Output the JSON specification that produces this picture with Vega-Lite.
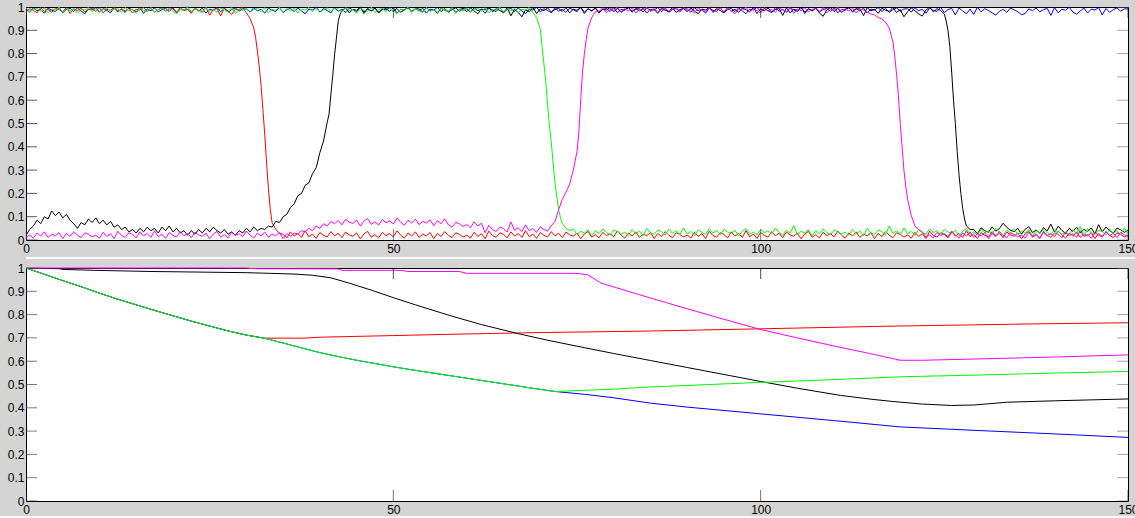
{
  "$schema": "https://vega.github.io/schema/vega-lite/v6.json",
  "background": "#d4d4d4",
  "padding": {"left": 6, "top": 0, "right": 0, "bottom": 0},
  "spacing": 2,
  "config": {
    "view": {"stroke": "#000", "strokeWidth": 1, "fill": "#fff"},
    "axis": {"labelFont": "Liberation Sans", "labelFontSize": 12, "labelColor": "#000", "grid": false, "domain": false, "ticks": false}
  },
  "datasets": {
    "yt": [{"v":0},{"v":0.1},{"v":0.2},{"v":0.3},{"v":0.4},{"v":0.5},{"v":0.6},{"v":0.7},{"v":0.8},{"v":0.9},{"v":1}],
    "xt": [{"v":0},{"v":50},{"v":100},{"v":150}],
    "top": [
      {"s":"b","x":0,"y":0.992},{"s":"b","x":0.5,"y":0.978},{"s":"b","x":1,"y":0.997},{"s":"b","x":1.5,"y":0.984},{"s":"b","x":2,"y":0.99},{"s":"b","x":2.5,"y":0.973},{"s":"b","x":3,"y":0.995},{"s":"b","x":3.5,"y":0.986},{"s":"b","x":4,"y":0.981},{"s":"b","x":4.5,"y":0.998},
      {"s":"b","x":5,"y":0.976},{"s":"b","x":5.5,"y":0.989},{"s":"b","x":6,"y":0.994},{"s":"b","x":6.5,"y":0.98},{"s":"b","x":7,"y":0.996},{"s":"b","x":7.5,"y":0.983},{"s":"b","x":8,"y":0.971},{"s":"b","x":8.5,"y":0.991},{"s":"b","x":9,"y":0.987},{"s":"b","x":9.5,"y":0.999},
      {"s":"b","x":10,"y":0.979},{"s":"b","x":10.5,"y":0.993},{"s":"b","x":11,"y":0.985},{"s":"b","x":11.5,"y":0.975},{"s":"b","x":12,"y":0.997},{"s":"b","x":12.5,"y":0.982},{"s":"b","x":13,"y":0.99},{"s":"b","x":13.5,"y":0.977},{"s":"b","x":14,"y":0.995},{"s":"b","x":14.5,"y":0.988},
      {"s":"b","x":15,"y":0.98},{"s":"b","x":15.5,"y":0.998},{"s":"b","x":16,"y":0.972},{"s":"b","x":16.5,"y":0.992},{"s":"b","x":17,"y":0.984},{"s":"b","x":17.5,"y":0.996},{"s":"b","x":18,"y":0.979},{"s":"b","x":18.5,"y":0.989},{"s":"b","x":19,"y":0.994},{"s":"b","x":19.5,"y":0.981},
      {"s":"b","x":20,"y":0.997},{"s":"b","x":20.5,"y":0.975},{"s":"b","x":21,"y":0.99},{"s":"b","x":21.5,"y":0.986},{"s":"b","x":22,"y":0.999},{"s":"b","x":22.5,"y":0.978},{"s":"b","x":23,"y":0.993},{"s":"b","x":23.5,"y":0.983},{"s":"b","x":24,"y":0.995},{"s":"b","x":24.5,"y":0.974},
      {"s":"b","x":25,"y":0.991},{"s":"b","x":25.5,"y":0.987},{"s":"b","x":26,"y":0.998},{"s":"b","x":26.5,"y":0.98},{"s":"b","x":27,"y":0.994},{"s":"b","x":27.5,"y":0.977},{"s":"b","x":28,"y":0.989},{"s":"b","x":28.5,"y":0.996},{"s":"b","x":29,"y":0.982},{"s":"b","x":29.5,"y":0.992},
      {"s":"b","x":30,"y":0.992},{"s":"b","x":30.5,"y":0.978},{"s":"b","x":31,"y":0.997},{"s":"b","x":31.5,"y":0.984},{"s":"b","x":32,"y":0.99},{"s":"b","x":32.5,"y":0.973},{"s":"b","x":33,"y":0.995},{"s":"b","x":33.5,"y":0.986},{"s":"b","x":34,"y":0.981},{"s":"b","x":34.5,"y":0.998},
      {"s":"b","x":35,"y":0.976},{"s":"b","x":35.5,"y":0.989},{"s":"b","x":36,"y":0.994},{"s":"b","x":36.5,"y":0.98},{"s":"b","x":37,"y":0.996},{"s":"b","x":37.5,"y":0.983},{"s":"b","x":38,"y":0.971},{"s":"b","x":38.5,"y":0.991},{"s":"b","x":39,"y":0.987},{"s":"b","x":39.5,"y":0.999},
      {"s":"b","x":40,"y":0.979},{"s":"b","x":40.5,"y":0.993},{"s":"b","x":41,"y":0.985},{"s":"b","x":41.5,"y":0.975},{"s":"b","x":42,"y":0.997},{"s":"b","x":42.5,"y":0.982},{"s":"b","x":43,"y":0.99},{"s":"b","x":43.5,"y":0.977},{"s":"b","x":44,"y":0.995},{"s":"b","x":44.5,"y":0.988},
      {"s":"b","x":45,"y":0.98},{"s":"b","x":45.5,"y":0.998},{"s":"b","x":46,"y":0.972},{"s":"b","x":46.5,"y":0.992},{"s":"b","x":47,"y":0.984},{"s":"b","x":47.5,"y":0.996},{"s":"b","x":48,"y":0.979},{"s":"b","x":48.5,"y":0.989},{"s":"b","x":49,"y":0.994},{"s":"b","x":49.5,"y":0.981},
      {"s":"b","x":50,"y":0.997},{"s":"b","x":50.5,"y":0.975},{"s":"b","x":51,"y":0.99},{"s":"b","x":51.5,"y":0.986},{"s":"b","x":52,"y":0.999},{"s":"b","x":52.5,"y":0.978},{"s":"b","x":53,"y":0.993},{"s":"b","x":53.5,"y":0.983},{"s":"b","x":54,"y":0.995},{"s":"b","x":54.5,"y":0.974},
      {"s":"b","x":55,"y":0.991},{"s":"b","x":55.5,"y":0.987},{"s":"b","x":56,"y":0.998},{"s":"b","x":56.5,"y":0.98},{"s":"b","x":57,"y":0.994},{"s":"b","x":57.5,"y":0.977},{"s":"b","x":58,"y":0.989},{"s":"b","x":58.5,"y":0.996},{"s":"b","x":59,"y":0.982},{"s":"b","x":59.5,"y":0.992},
      {"s":"b","x":60,"y":0.992},{"s":"b","x":60.5,"y":0.978},{"s":"b","x":61,"y":0.997},{"s":"b","x":61.5,"y":0.984},{"s":"b","x":62,"y":0.99},{"s":"b","x":62.5,"y":0.973},{"s":"b","x":63,"y":0.995},{"s":"b","x":63.5,"y":0.986},{"s":"b","x":64,"y":0.981},{"s":"b","x":64.5,"y":0.998},
      {"s":"b","x":65,"y":0.976},{"s":"b","x":65.5,"y":0.989},{"s":"b","x":66,"y":0.994},{"s":"b","x":66.5,"y":0.98},{"s":"b","x":67,"y":0.996},{"s":"b","x":67.5,"y":0.983},{"s":"b","x":68,"y":0.971},{"s":"b","x":68.5,"y":0.991},{"s":"b","x":69,"y":0.987},{"s":"b","x":69.5,"y":0.999},
      {"s":"b","x":70,"y":0.979},{"s":"b","x":70.5,"y":0.993},{"s":"b","x":71,"y":0.985},{"s":"b","x":71.5,"y":0.975},{"s":"b","x":72,"y":0.997},{"s":"b","x":72.5,"y":0.982},{"s":"b","x":73,"y":0.99},{"s":"b","x":73.5,"y":0.977},{"s":"b","x":74,"y":0.995},{"s":"b","x":74.5,"y":0.988},
      {"s":"b","x":75,"y":0.98},{"s":"b","x":75.5,"y":0.998},{"s":"b","x":76,"y":0.972},{"s":"b","x":76.5,"y":0.992},{"s":"b","x":77,"y":0.984},{"s":"b","x":77.5,"y":0.996},{"s":"b","x":78,"y":0.979},{"s":"b","x":78.5,"y":0.989},{"s":"b","x":79,"y":0.994},{"s":"b","x":79.5,"y":0.981},
      {"s":"b","x":80,"y":0.997},{"s":"b","x":80.5,"y":0.975},{"s":"b","x":81,"y":0.99},{"s":"b","x":81.5,"y":0.986},{"s":"b","x":82,"y":0.999},{"s":"b","x":82.5,"y":0.978},{"s":"b","x":83,"y":0.993},{"s":"b","x":83.5,"y":0.983},{"s":"b","x":84,"y":0.995},{"s":"b","x":84.5,"y":0.974},
      {"s":"b","x":85,"y":0.991},{"s":"b","x":85.5,"y":0.987},{"s":"b","x":86,"y":0.998},{"s":"b","x":86.5,"y":0.98},{"s":"b","x":87,"y":0.994},{"s":"b","x":87.5,"y":0.977},{"s":"b","x":88,"y":0.989},{"s":"b","x":88.5,"y":0.996},{"s":"b","x":89,"y":0.982},{"s":"b","x":89.5,"y":0.992},
      {"s":"b","x":90,"y":0.992},{"s":"b","x":90.5,"y":0.978},{"s":"b","x":91,"y":0.997},{"s":"b","x":91.5,"y":0.984},{"s":"b","x":92,"y":0.99},{"s":"b","x":92.5,"y":0.973},{"s":"b","x":93,"y":0.995},{"s":"b","x":93.5,"y":0.986},{"s":"b","x":94,"y":0.981},{"s":"b","x":94.5,"y":0.998},
      {"s":"b","x":95,"y":0.976},{"s":"b","x":95.5,"y":0.989},{"s":"b","x":96,"y":0.994},{"s":"b","x":96.5,"y":0.98},{"s":"b","x":97,"y":0.996},{"s":"b","x":97.5,"y":0.983},{"s":"b","x":98,"y":0.971},{"s":"b","x":98.5,"y":0.991},{"s":"b","x":99,"y":0.987},{"s":"b","x":99.5,"y":0.999},
      {"s":"b","x":100,"y":0.979},{"s":"b","x":100.5,"y":0.993},{"s":"b","x":101,"y":0.985},{"s":"b","x":101.5,"y":0.975},{"s":"b","x":102,"y":0.997},{"s":"b","x":102.5,"y":0.982},{"s":"b","x":103,"y":0.99},{"s":"b","x":103.5,"y":0.977},{"s":"b","x":104,"y":0.995},{"s":"b","x":104.5,"y":0.988},
      {"s":"b","x":105,"y":0.98},{"s":"b","x":105.5,"y":0.998},{"s":"b","x":106,"y":0.972},{"s":"b","x":106.5,"y":0.992},{"s":"b","x":107,"y":0.984},{"s":"b","x":107.5,"y":0.996},{"s":"b","x":108,"y":0.979},{"s":"b","x":108.5,"y":0.989},{"s":"b","x":109,"y":0.994},{"s":"b","x":109.5,"y":0.981},
      {"s":"b","x":110,"y":0.997},{"s":"b","x":110.5,"y":0.975},{"s":"b","x":111,"y":0.99},{"s":"b","x":111.5,"y":0.986},{"s":"b","x":112,"y":0.999},{"s":"b","x":112.5,"y":0.978},{"s":"b","x":113,"y":0.993},{"s":"b","x":113.5,"y":0.983},{"s":"b","x":114,"y":0.995},{"s":"b","x":114.5,"y":0.974},
      {"s":"b","x":115,"y":0.991},{"s":"b","x":115.5,"y":0.987},{"s":"b","x":116,"y":0.998},{"s":"b","x":116.5,"y":0.98},{"s":"b","x":117,"y":0.994},{"s":"b","x":117.5,"y":0.977},{"s":"b","x":118,"y":0.989},{"s":"b","x":118.5,"y":0.996},{"s":"b","x":119,"y":0.982},{"s":"b","x":119.5,"y":0.992},
      {"s":"b","x":120,"y":0.992},{"s":"b","x":120.5,"y":0.978},{"s":"b","x":121,"y":0.997},{"s":"b","x":121.5,"y":0.984},{"s":"b","x":122,"y":0.99},{"s":"b","x":122.5,"y":0.973},{"s":"b","x":123,"y":0.995},{"s":"b","x":123.5,"y":0.986},{"s":"b","x":124,"y":0.981},{"s":"b","x":124.5,"y":0.998},
      {"s":"b","x":125,"y":0.976},{"s":"b","x":125.5,"y":0.989},{"s":"b","x":126,"y":0.994},{"s":"b","x":126.5,"y":0.966},{"s":"b","x":127,"y":0.996},{"s":"b","x":127.5,"y":0.983},{"s":"b","x":128,"y":0.971},{"s":"b","x":128.5,"y":0.991},{"s":"b","x":129,"y":0.968},{"s":"b","x":129.5,"y":0.999},
      {"s":"b","x":130,"y":0.979},{"s":"b","x":130.5,"y":0.993},{"s":"b","x":131,"y":0.985},{"s":"b","x":131.5,"y":0.975},{"s":"b","x":132,"y":0.965},{"s":"b","x":132.5,"y":0.982},{"s":"b","x":133,"y":0.99},{"s":"b","x":133.5,"y":0.977},{"s":"b","x":134,"y":0.995},{"s":"b","x":134.5,"y":0.988},
      {"s":"b","x":135,"y":0.98},{"s":"b","x":135.5,"y":0.967},{"s":"b","x":136,"y":0.972},{"s":"b","x":136.5,"y":0.992},{"s":"b","x":137,"y":0.984},{"s":"b","x":137.5,"y":0.996},{"s":"b","x":138,"y":0.979},{"s":"b","x":138.5,"y":0.989},{"s":"b","x":139,"y":0.994},{"s":"b","x":139.5,"y":0.964},
      {"s":"b","x":140,"y":0.997},{"s":"b","x":140.5,"y":0.975},{"s":"b","x":141,"y":0.99},{"s":"b","x":141.5,"y":0.986},{"s":"b","x":142,"y":0.999},{"s":"b","x":142.5,"y":0.978},{"s":"b","x":143,"y":0.969},{"s":"b","x":143.5,"y":0.983},{"s":"b","x":144,"y":0.995},{"s":"b","x":144.5,"y":0.974},
      {"s":"b","x":145,"y":0.991},{"s":"b","x":145.5,"y":0.987},{"s":"b","x":146,"y":0.998},{"s":"b","x":146.5,"y":0.966},{"s":"b","x":147,"y":0.994},{"s":"b","x":147.5,"y":0.977},{"s":"b","x":148,"y":0.989},{"s":"b","x":148.5,"y":0.996},{"s":"b","x":149,"y":0.982},{"s":"b","x":149.5,"y":0.992},
      {"s":"b","x":150,"y":0.992},

      {"s":"r","x":0,"y":0.979},{"s":"r","x":0.5,"y":0.993},{"s":"r","x":1,"y":0.985},{"s":"r","x":1.5,"y":0.975},{"s":"r","x":2,"y":0.997},{"s":"r","x":2.5,"y":0.982},{"s":"r","x":3,"y":0.99},{"s":"r","x":3.5,"y":0.977},{"s":"r","x":4,"y":0.995},{"s":"r","x":4.5,"y":0.988},
      {"s":"r","x":5,"y":0.98},{"s":"r","x":5.5,"y":0.998},{"s":"r","x":6,"y":0.972},{"s":"r","x":6.5,"y":0.992},{"s":"r","x":7,"y":0.984},{"s":"r","x":7.5,"y":0.996},{"s":"r","x":8,"y":0.979},{"s":"r","x":8.5,"y":0.989},{"s":"r","x":9,"y":0.994},{"s":"r","x":9.5,"y":0.981},
      {"s":"r","x":10,"y":0.997},{"s":"r","x":10.5,"y":0.975},{"s":"r","x":11,"y":0.99},{"s":"r","x":11.5,"y":0.986},{"s":"r","x":12,"y":0.999},{"s":"r","x":12.5,"y":0.978},{"s":"r","x":13,"y":0.993},{"s":"r","x":13.5,"y":0.983},{"s":"r","x":14,"y":0.995},{"s":"r","x":14.5,"y":0.974},
      {"s":"r","x":15,"y":0.991},{"s":"r","x":15.5,"y":0.987},{"s":"r","x":16,"y":0.998},{"s":"r","x":16.5,"y":0.98},{"s":"r","x":17,"y":0.994},{"s":"r","x":17.5,"y":0.977},{"s":"r","x":18,"y":0.989},{"s":"r","x":18.5,"y":0.996},{"s":"r","x":19,"y":0.982},{"s":"r","x":19.5,"y":0.992},
      {"s":"r","x":20,"y":0.992},{"s":"r","x":20.5,"y":0.978},{"s":"r","x":21,"y":0.997},{"s":"r","x":21.5,"y":0.984},{"s":"r","x":22,"y":0.99},{"s":"r","x":22.5,"y":0.973},{"s":"r","x":23,"y":0.995},{"s":"r","x":23.5,"y":0.986},{"s":"r","x":24,"y":0.981},{"s":"r","x":24.5,"y":0.998},
      {"s":"r","x":25,"y":0.965},{"s":"r","x":25.5,"y":0.989},{"s":"r","x":26,"y":0.994},{"s":"r","x":26.5,"y":0.962},{"s":"r","x":27,"y":0.996},{"s":"r","x":27.5,"y":0.983},{"s":"r","x":28,"y":0.968},{"s":"r","x":28.5,"y":0.991},{"s":"r","x":29,"y":0.987},{"s":"r","x":29.5,"y":0.999},
      {"s":"r","x":30,"y":0.975},{"s":"r","x":30.5,"y":0.95},{"s":"r","x":31,"y":0.91},{"s":"r","x":31.25,"y":0.87},{"s":"r","x":31.5,"y":0.81},{"s":"r","x":31.75,"y":0.745},{"s":"r","x":32,"y":0.66},{"s":"r","x":32.25,"y":0.56},{"s":"r","x":32.5,"y":0.45},{"s":"r","x":32.75,"y":0.33},
      {"s":"r","x":33,"y":0.22},{"s":"r","x":33.25,"y":0.13},{"s":"r","x":33.5,"y":0.075},{"s":"r","x":34,"y":0.045},{"s":"r","x":34.5,"y":0.03},
      {"s":"r","x":35,"y":0.024},{"s":"r","x":35.5,"y":0.009},{"s":"r","x":36,"y":0.035},{"s":"r","x":36.5,"y":0.017},{"s":"r","x":37,"y":0.028},{"s":"r","x":37.5,"y":0.011},{"s":"r","x":38,"y":0.04},{"s":"r","x":38.5,"y":0.014},{"s":"r","x":39,"y":0.025},{"s":"r","x":39.5,"y":0.007},
      {"s":"r","x":40,"y":0.032},{"s":"r","x":40.5,"y":0.02},{"s":"r","x":41,"y":0.013},{"s":"r","x":41.5,"y":0.036},{"s":"r","x":42,"y":0.018},{"s":"r","x":42.5,"y":0.029},{"s":"r","x":43,"y":0.01},{"s":"r","x":43.5,"y":0.034},{"s":"r","x":44,"y":0.022},{"s":"r","x":44.5,"y":0.016},
      {"s":"r","x":45,"y":0.03},{"s":"r","x":45.5,"y":0.005},{"s":"r","x":46,"y":0.026},{"s":"r","x":46.5,"y":0.037},{"s":"r","x":47,"y":0.012},{"s":"r","x":47.5,"y":0.023},{"s":"r","x":48,"y":0.009},{"s":"r","x":48.5,"y":0.033},{"s":"r","x":49,"y":0.019},{"s":"r","x":49.5,"y":0.027},
      {"s":"r","x":50,"y":0.014},{"s":"r","x":50.5,"y":0.039},{"s":"r","x":51,"y":0.021},{"s":"r","x":51.5,"y":0.008},{"s":"r","x":52,"y":0.03},{"s":"r","x":52.5,"y":0.017},{"s":"r","x":53,"y":0.035},{"s":"r","x":53.5,"y":0.011},{"s":"r","x":54,"y":0.025},{"s":"r","x":54.5,"y":0.018},
      {"s":"r","x":55,"y":0.032},{"s":"r","x":55.5,"y":0.006},{"s":"r","x":56,"y":0.028},{"s":"r","x":56.5,"y":0.015},{"s":"r","x":57,"y":0.036},{"s":"r","x":57.5,"y":0.02},{"s":"r","x":58,"y":0.01},{"s":"r","x":58.5,"y":0.031},{"s":"r","x":59,"y":0.024},{"s":"r","x":59.5,"y":0.013},
      {"s":"r","x":60,"y":0.021},{"s":"r","x":60.5,"y":0.008},{"s":"r","x":61,"y":0.033},{"s":"r","x":61.5,"y":0.015},{"s":"r","x":62,"y":0.027},{"s":"r","x":62.5,"y":0.006},{"s":"r","x":63,"y":0.038},{"s":"r","x":63.5,"y":0.019},{"s":"r","x":64,"y":0.012},{"s":"r","x":64.5,"y":0.031},
      {"s":"r","x":65,"y":0.024},{"s":"r","x":65.5,"y":0.009},{"s":"r","x":66,"y":0.035},{"s":"r","x":66.5,"y":0.017},{"s":"r","x":67,"y":0.028},{"s":"r","x":67.5,"y":0.011},{"s":"r","x":68,"y":0.04},{"s":"r","x":68.5,"y":0.014},{"s":"r","x":69,"y":0.025},{"s":"r","x":69.5,"y":0.007},
      {"s":"r","x":70,"y":0.032},{"s":"r","x":70.5,"y":0.02},{"s":"r","x":71,"y":0.013},{"s":"r","x":71.5,"y":0.036},{"s":"r","x":72,"y":0.018},{"s":"r","x":72.5,"y":0.029},{"s":"r","x":73,"y":0.01},{"s":"r","x":73.5,"y":0.034},{"s":"r","x":74,"y":0.022},{"s":"r","x":74.5,"y":0.016},
      {"s":"r","x":75,"y":0.03},{"s":"r","x":75.5,"y":0.005},{"s":"r","x":76,"y":0.026},{"s":"r","x":76.5,"y":0.037},{"s":"r","x":77,"y":0.012},{"s":"r","x":77.5,"y":0.023},{"s":"r","x":78,"y":0.009},{"s":"r","x":78.5,"y":0.033},{"s":"r","x":79,"y":0.019},{"s":"r","x":79.5,"y":0.027},
      {"s":"r","x":80,"y":0.014},{"s":"r","x":80.5,"y":0.039},{"s":"r","x":81,"y":0.021},{"s":"r","x":81.5,"y":0.008},{"s":"r","x":82,"y":0.03},{"s":"r","x":82.5,"y":0.017},{"s":"r","x":83,"y":0.035},{"s":"r","x":83.5,"y":0.011},{"s":"r","x":84,"y":0.025},{"s":"r","x":84.5,"y":0.018},
      {"s":"r","x":85,"y":0.032},{"s":"r","x":85.5,"y":0.006},{"s":"r","x":86,"y":0.028},{"s":"r","x":86.5,"y":0.015},{"s":"r","x":87,"y":0.036},{"s":"r","x":87.5,"y":0.02},{"s":"r","x":88,"y":0.01},{"s":"r","x":88.5,"y":0.031},{"s":"r","x":89,"y":0.024},{"s":"r","x":89.5,"y":0.013},
      {"s":"r","x":90,"y":0.021},{"s":"r","x":90.5,"y":0.008},{"s":"r","x":91,"y":0.033},{"s":"r","x":91.5,"y":0.015},{"s":"r","x":92,"y":0.027},{"s":"r","x":92.5,"y":0.006},{"s":"r","x":93,"y":0.038},{"s":"r","x":93.5,"y":0.019},{"s":"r","x":94,"y":0.012},{"s":"r","x":94.5,"y":0.031},
      {"s":"r","x":95,"y":0.024},{"s":"r","x":95.5,"y":0.009},{"s":"r","x":96,"y":0.035},{"s":"r","x":96.5,"y":0.017},{"s":"r","x":97,"y":0.028},{"s":"r","x":97.5,"y":0.011},{"s":"r","x":98,"y":0.04},{"s":"r","x":98.5,"y":0.014},{"s":"r","x":99,"y":0.025},{"s":"r","x":99.5,"y":0.007},
      {"s":"r","x":100,"y":0.032},{"s":"r","x":100.5,"y":0.02},{"s":"r","x":101,"y":0.013},{"s":"r","x":101.5,"y":0.036},{"s":"r","x":102,"y":0.018},{"s":"r","x":102.5,"y":0.029},{"s":"r","x":103,"y":0.01},{"s":"r","x":103.5,"y":0.034},{"s":"r","x":104,"y":0.022},{"s":"r","x":104.5,"y":0.016},
      {"s":"r","x":105,"y":0.03},{"s":"r","x":105.5,"y":0.005},{"s":"r","x":106,"y":0.026},{"s":"r","x":106.5,"y":0.037},{"s":"r","x":107,"y":0.012},{"s":"r","x":107.5,"y":0.023},{"s":"r","x":108,"y":0.009},{"s":"r","x":108.5,"y":0.033},{"s":"r","x":109,"y":0.019},{"s":"r","x":109.5,"y":0.027},
      {"s":"r","x":110,"y":0.014},{"s":"r","x":110.5,"y":0.039},{"s":"r","x":111,"y":0.021},{"s":"r","x":111.5,"y":0.008},{"s":"r","x":112,"y":0.03},{"s":"r","x":112.5,"y":0.017},{"s":"r","x":113,"y":0.035},{"s":"r","x":113.5,"y":0.011},{"s":"r","x":114,"y":0.025},{"s":"r","x":114.5,"y":0.018},
      {"s":"r","x":115,"y":0.032},{"s":"r","x":115.5,"y":0.006},{"s":"r","x":116,"y":0.028},{"s":"r","x":116.5,"y":0.015},{"s":"r","x":117,"y":0.036},{"s":"r","x":117.5,"y":0.02},{"s":"r","x":118,"y":0.01},{"s":"r","x":118.5,"y":0.031},{"s":"r","x":119,"y":0.024},{"s":"r","x":119.5,"y":0.013},
      {"s":"r","x":120,"y":0.021},{"s":"r","x":120.5,"y":0.008},{"s":"r","x":121,"y":0.033},{"s":"r","x":121.5,"y":0.015},{"s":"r","x":122,"y":0.027},{"s":"r","x":122.5,"y":0.006},{"s":"r","x":123,"y":0.038},{"s":"r","x":123.5,"y":0.019},{"s":"r","x":124,"y":0.012},{"s":"r","x":124.5,"y":0.031},
      {"s":"r","x":125,"y":0.024},{"s":"r","x":125.5,"y":0.009},{"s":"r","x":126,"y":0.035},{"s":"r","x":126.5,"y":0.017},{"s":"r","x":127,"y":0.028},{"s":"r","x":127.5,"y":0.011},{"s":"r","x":128,"y":0.04},{"s":"r","x":128.5,"y":0.014},{"s":"r","x":129,"y":0.025},{"s":"r","x":129.5,"y":0.007},
      {"s":"r","x":130,"y":0.032},{"s":"r","x":130.5,"y":0.02},{"s":"r","x":131,"y":0.013},{"s":"r","x":131.5,"y":0.036},{"s":"r","x":132,"y":0.018},{"s":"r","x":132.5,"y":0.029},{"s":"r","x":133,"y":0.01},{"s":"r","x":133.5,"y":0.034},{"s":"r","x":134,"y":0.022},{"s":"r","x":134.5,"y":0.016},
      {"s":"r","x":135,"y":0.03},{"s":"r","x":135.5,"y":0.005},{"s":"r","x":136,"y":0.026},{"s":"r","x":136.5,"y":0.037},{"s":"r","x":137,"y":0.012},{"s":"r","x":137.5,"y":0.023},{"s":"r","x":138,"y":0.009},{"s":"r","x":138.5,"y":0.033},{"s":"r","x":139,"y":0.019},{"s":"r","x":139.5,"y":0.027},
      {"s":"r","x":140,"y":0.014},{"s":"r","x":140.5,"y":0.039},{"s":"r","x":141,"y":0.021},{"s":"r","x":141.5,"y":0.008},{"s":"r","x":142,"y":0.03},{"s":"r","x":142.5,"y":0.017},{"s":"r","x":143,"y":0.035},{"s":"r","x":143.5,"y":0.011},{"s":"r","x":144,"y":0.025},{"s":"r","x":144.5,"y":0.018},
      {"s":"r","x":145,"y":0.032},{"s":"r","x":145.5,"y":0.006},{"s":"r","x":146,"y":0.028},{"s":"r","x":146.5,"y":0.015},{"s":"r","x":147,"y":0.036},{"s":"r","x":147.5,"y":0.02},{"s":"r","x":148,"y":0.01},{"s":"r","x":148.5,"y":0.031},{"s":"r","x":149,"y":0.024},{"s":"r","x":149.5,"y":0.013},
      {"s":"r","x":150,"y":0.021},

      {"s":"k","x":0,"y":0.02},{"s":"k","x":0.5,"y":0.045},{"s":"k","x":1,"y":0.06},{"s":"k","x":1.5,"y":0.085},{"s":"k","x":2,"y":0.07},{"s":"k","x":2.5,"y":0.1},{"s":"k","x":3,"y":0.09},{"s":"k","x":3.5,"y":0.125},{"s":"k","x":4,"y":0.105},{"s":"k","x":4.5,"y":0.12},
      {"s":"k","x":5,"y":0.095},{"s":"k","x":5.5,"y":0.11},{"s":"k","x":6,"y":0.085},{"s":"k","x":6.5,"y":0.07},{"s":"k","x":7,"y":0.05},{"s":"k","x":7.5,"y":0.075},{"s":"k","x":8,"y":0.065},{"s":"k","x":8.5,"y":0.09},{"s":"k","x":9,"y":0.075},{"s":"k","x":9.5,"y":0.095},
      {"s":"k","x":10,"y":0.07},{"s":"k","x":10.5,"y":0.085},{"s":"k","x":11,"y":0.065},{"s":"k","x":11.5,"y":0.08},{"s":"k","x":12,"y":0.055},{"s":"k","x":12.5,"y":0.065},{"s":"k","x":13,"y":0.045},{"s":"k","x":13.5,"y":0.055},{"s":"k","x":14,"y":0.035},{"s":"k","x":14.5,"y":0.045},
      {"s":"k","x":15,"y":0.03},{"s":"k","x":15.5,"y":0.05},{"s":"k","x":16,"y":0.035},{"s":"k","x":16.5,"y":0.055},{"s":"k","x":17,"y":0.04},{"s":"k","x":17.5,"y":0.05},{"s":"k","x":18,"y":0.03},{"s":"k","x":18.5,"y":0.055},{"s":"k","x":19,"y":0.04},{"s":"k","x":19.5,"y":0.06},
      {"s":"k","x":20,"y":0.035},{"s":"k","x":20.5,"y":0.05},{"s":"k","x":21,"y":0.03},{"s":"k","x":21.5,"y":0.04},{"s":"k","x":22,"y":0.02},{"s":"k","x":22.5,"y":0.04},{"s":"k","x":23,"y":0.025},{"s":"k","x":23.5,"y":0.045},{"s":"k","x":24,"y":0.03},{"s":"k","x":24.5,"y":0.05},
      {"s":"k","x":25,"y":0.035},{"s":"k","x":25.5,"y":0.055},{"s":"k","x":26,"y":0.04},{"s":"k","x":26.5,"y":0.03},{"s":"k","x":27,"y":0.045},{"s":"k","x":27.5,"y":0.025},{"s":"k","x":28,"y":0.035},{"s":"k","x":28.5,"y":0.02},{"s":"k","x":29,"y":0.04},{"s":"k","x":29.5,"y":0.03},
      {"s":"k","x":30,"y":0.05},{"s":"k","x":30.5,"y":0.035},{"s":"k","x":31,"y":0.055},{"s":"k","x":31.5,"y":0.04},{"s":"k","x":32,"y":0.05},{"s":"k","x":32.5,"y":0.045},{"s":"k","x":33,"y":0.06},
      {"s":"k","x":33.5,"y":0.055},{"s":"k","x":34,"y":0.08},{"s":"k","x":34.5,"y":0.075},{"s":"k","x":35,"y":0.1},{"s":"k","x":35.5,"y":0.11},{"s":"k","x":36,"y":0.14},{"s":"k","x":36.5,"y":0.155},{"s":"k","x":37,"y":0.19},{"s":"k","x":37.5,"y":0.2},
      {"s":"k","x":38,"y":0.235},{"s":"k","x":38.5,"y":0.245},{"s":"k","x":39,"y":0.285},{"s":"k","x":39.5,"y":0.31},{"s":"k","x":40,"y":0.375},{"s":"k","x":40.5,"y":0.425},{"s":"k","x":41,"y":0.505},{"s":"k","x":41.25,"y":0.54},{"s":"k","x":41.5,"y":0.625},{"s":"k","x":41.75,"y":0.705},
      {"s":"k","x":42,"y":0.795},{"s":"k","x":42.25,"y":0.865},{"s":"k","x":42.5,"y":0.94},{"s":"k","x":42.75,"y":0.968},{"s":"k","x":43,"y":0.985},
      {"s":"k","x":43.5,"y":0.997},{"s":"k","x":44,"y":0.975},{"s":"k","x":44.5,"y":0.99},{"s":"k","x":45,"y":0.986},{"s":"k","x":45.5,"y":0.999},{"s":"k","x":46,"y":0.978},{"s":"k","x":46.5,"y":0.993},{"s":"k","x":47,"y":0.983},{"s":"k","x":47.5,"y":0.995},{"s":"k","x":48,"y":0.974},
      {"s":"k","x":48.5,"y":0.991},{"s":"k","x":49,"y":0.987},{"s":"k","x":49.5,"y":0.998},{"s":"k","x":50,"y":0.98},{"s":"k","x":50.5,"y":0.994},{"s":"k","x":51,"y":0.977},{"s":"k","x":51.5,"y":0.989},{"s":"k","x":52,"y":0.996},{"s":"k","x":52.5,"y":0.982},{"s":"k","x":53,"y":0.992},
      {"s":"k","x":53.5,"y":0.992},{"s":"k","x":54,"y":0.978},{"s":"k","x":54.5,"y":0.997},{"s":"k","x":55,"y":0.984},{"s":"k","x":55.5,"y":0.99},{"s":"k","x":56,"y":0.973},{"s":"k","x":56.5,"y":0.995},{"s":"k","x":57,"y":0.986},{"s":"k","x":57.5,"y":0.981},{"s":"k","x":58,"y":0.998},
      {"s":"k","x":58.5,"y":0.976},{"s":"k","x":59,"y":0.989},{"s":"k","x":59.5,"y":0.994},{"s":"k","x":60,"y":0.98},{"s":"k","x":60.5,"y":0.996},{"s":"k","x":61,"y":0.983},{"s":"k","x":61.5,"y":0.971},{"s":"k","x":62,"y":0.991},{"s":"k","x":62.5,"y":0.987},{"s":"k","x":63,"y":0.999},
      {"s":"k","x":63.5,"y":0.979},{"s":"k","x":64,"y":0.993},{"s":"k","x":64.5,"y":0.985},{"s":"k","x":65,"y":0.975},{"s":"k","x":65.5,"y":0.997},{"s":"k","x":66,"y":0.962},{"s":"k","x":66.5,"y":0.99},{"s":"k","x":67,"y":0.977},{"s":"k","x":67.5,"y":0.958},{"s":"k","x":68,"y":0.988},
      {"s":"k","x":68.5,"y":0.98},{"s":"k","x":69,"y":0.998},{"s":"k","x":69.5,"y":0.972},{"s":"k","x":70,"y":0.992},{"s":"k","x":70.5,"y":0.984},{"s":"k","x":71,"y":0.996},{"s":"k","x":71.5,"y":0.979},{"s":"k","x":72,"y":0.989},{"s":"k","x":72.5,"y":0.994},{"s":"k","x":73,"y":0.981},
      {"s":"k","x":73.5,"y":0.997},{"s":"k","x":74,"y":0.975},{"s":"k","x":74.5,"y":0.99},{"s":"k","x":75,"y":0.986},{"s":"k","x":75.5,"y":0.999},{"s":"k","x":76,"y":0.978},{"s":"k","x":76.5,"y":0.993},{"s":"k","x":77,"y":0.983},{"s":"k","x":77.5,"y":0.995},{"s":"k","x":78,"y":0.974},
      {"s":"k","x":78.5,"y":0.991},{"s":"k","x":79,"y":0.987},{"s":"k","x":79.5,"y":0.998},{"s":"k","x":80,"y":0.98},{"s":"k","x":80.5,"y":0.994},{"s":"k","x":81,"y":0.977},{"s":"k","x":81.5,"y":0.989},{"s":"k","x":82,"y":0.996},{"s":"k","x":82.5,"y":0.982},{"s":"k","x":83,"y":0.992},
      {"s":"k","x":83.5,"y":0.992},{"s":"k","x":84,"y":0.978},{"s":"k","x":84.5,"y":0.997},{"s":"k","x":85,"y":0.984},{"s":"k","x":85.5,"y":0.99},{"s":"k","x":86,"y":0.973},{"s":"k","x":86.5,"y":0.995},{"s":"k","x":87,"y":0.986},{"s":"k","x":87.5,"y":0.981},{"s":"k","x":88,"y":0.998},
      {"s":"k","x":88.5,"y":0.976},{"s":"k","x":89,"y":0.989},{"s":"k","x":89.5,"y":0.994},{"s":"k","x":90,"y":0.98},{"s":"k","x":90.5,"y":0.996},{"s":"k","x":91,"y":0.983},{"s":"k","x":91.5,"y":0.971},{"s":"k","x":92,"y":0.991},{"s":"k","x":92.5,"y":0.987},{"s":"k","x":93,"y":0.999},
      {"s":"k","x":93.5,"y":0.979},{"s":"k","x":94,"y":0.993},{"s":"k","x":94.5,"y":0.985},{"s":"k","x":95,"y":0.975},{"s":"k","x":95.5,"y":0.997},{"s":"k","x":96,"y":0.982},{"s":"k","x":96.5,"y":0.99},{"s":"k","x":97,"y":0.977},{"s":"k","x":97.5,"y":0.995},{"s":"k","x":98,"y":0.988},
      {"s":"k","x":98.5,"y":0.98},{"s":"k","x":99,"y":0.998},{"s":"k","x":99.5,"y":0.972},{"s":"k","x":100,"y":0.992},{"s":"k","x":100.5,"y":0.984},{"s":"k","x":101,"y":0.996},{"s":"k","x":101.5,"y":0.979},{"s":"k","x":102,"y":0.989},{"s":"k","x":102.5,"y":0.994},{"s":"k","x":103,"y":0.964},
      {"s":"k","x":103.5,"y":0.997},{"s":"k","x":104,"y":0.975},{"s":"k","x":104.5,"y":0.99},{"s":"k","x":105,"y":0.986},{"s":"k","x":105.5,"y":0.999},{"s":"k","x":106,"y":0.978},{"s":"k","x":106.5,"y":0.993},{"s":"k","x":107,"y":0.983},{"s":"k","x":107.5,"y":0.995},{"s":"k","x":108,"y":0.974},
      {"s":"k","x":108.5,"y":0.96},{"s":"k","x":109,"y":0.987},{"s":"k","x":109.5,"y":0.998},{"s":"k","x":110,"y":0.98},{"s":"k","x":110.5,"y":0.994},{"s":"k","x":111,"y":0.977},{"s":"k","x":111.5,"y":0.989},{"s":"k","x":112,"y":0.996},{"s":"k","x":112.5,"y":0.982},{"s":"k","x":113,"y":0.992},
      {"s":"k","x":113.5,"y":0.992},{"s":"k","x":114,"y":0.963},{"s":"k","x":114.5,"y":0.997},{"s":"k","x":115,"y":0.984},{"s":"k","x":115.5,"y":0.99},{"s":"k","x":116,"y":0.973},{"s":"k","x":116.5,"y":0.995},{"s":"k","x":117,"y":0.986},{"s":"k","x":117.5,"y":0.981},{"s":"k","x":118,"y":0.998},
      {"s":"k","x":118.5,"y":0.976},{"s":"k","x":119,"y":0.989},{"s":"k","x":119.5,"y":0.958},{"s":"k","x":120,"y":0.98},{"s":"k","x":120.5,"y":0.996},{"s":"k","x":121,"y":0.983},{"s":"k","x":121.5,"y":0.971},{"s":"k","x":122,"y":0.961},{"s":"k","x":122.5,"y":0.987},{"s":"k","x":123,"y":0.999},
      {"s":"k","x":123.5,"y":0.979},{"s":"k","x":124,"y":0.993},{"s":"k","x":124.5,"y":0.985},
      {"s":"k","x":125,"y":0.97},{"s":"k","x":125.25,"y":0.94},{"s":"k","x":125.5,"y":0.9},{"s":"k","x":125.75,"y":0.83},{"s":"k","x":126,"y":0.72},{"s":"k","x":126.25,"y":0.6},{"s":"k","x":126.5,"y":0.5},{"s":"k","x":126.75,"y":0.38},{"s":"k","x":127,"y":0.28},{"s":"k","x":127.25,"y":0.2},
      {"s":"k","x":127.5,"y":0.135},{"s":"k","x":127.75,"y":0.09},{"s":"k","x":128,"y":0.06},{"s":"k","x":128.5,"y":0.045},
      {"s":"k","x":129,"y":0.045},{"s":"k","x":129.5,"y":0.027},{"s":"k","x":130,"y":0.052},{"s":"k","x":130.5,"y":0.04},{"s":"k","x":131,"y":0.033},{"s":"k","x":131.5,"y":0.056},{"s":"k","x":132,"y":0.038},{"s":"k","x":132.5,"y":0.049},{"s":"k","x":133,"y":0.072},{"s":"k","x":133.5,"y":0.054},
      {"s":"k","x":134,"y":0.042},{"s":"k","x":134.5,"y":0.036},{"s":"k","x":135,"y":0.05},{"s":"k","x":135.5,"y":0.025},{"s":"k","x":136,"y":0.046},{"s":"k","x":136.5,"y":0.057},{"s":"k","x":137,"y":0.032},{"s":"k","x":137.5,"y":0.043},{"s":"k","x":138,"y":0.029},{"s":"k","x":138.5,"y":0.053},
      {"s":"k","x":139,"y":0.039},{"s":"k","x":139.5,"y":0.068},{"s":"k","x":140,"y":0.034},{"s":"k","x":140.5,"y":0.059},{"s":"k","x":141,"y":0.041},{"s":"k","x":141.5,"y":0.028},{"s":"k","x":142,"y":0.05},{"s":"k","x":142.5,"y":0.037},{"s":"k","x":143,"y":0.055},{"s":"k","x":143.5,"y":0.031},
      {"s":"k","x":144,"y":0.045},{"s":"k","x":144.5,"y":0.038},{"s":"k","x":145,"y":0.052},{"s":"k","x":145.5,"y":0.026},{"s":"k","x":146,"y":0.066},{"s":"k","x":146.5,"y":0.035},{"s":"k","x":147,"y":0.056},{"s":"k","x":147.5,"y":0.04},{"s":"k","x":148,"y":0.03},{"s":"k","x":148.5,"y":0.051},
      {"s":"k","x":149,"y":0.044},{"s":"k","x":149.5,"y":0.033},{"s":"k","x":150,"y":0.041},

      {"s":"g","x":0,"y":0.996},{"s":"g","x":0.5,"y":0.979},{"s":"g","x":1,"y":0.989},{"s":"g","x":1.5,"y":0.994},{"s":"g","x":2,"y":0.981},{"s":"g","x":2.5,"y":0.997},{"s":"g","x":3,"y":0.975},{"s":"g","x":3.5,"y":0.99},{"s":"g","x":4,"y":0.986},{"s":"g","x":4.5,"y":0.999},
      {"s":"g","x":5,"y":0.978},{"s":"g","x":5.5,"y":0.993},{"s":"g","x":6,"y":0.983},{"s":"g","x":6.5,"y":0.995},{"s":"g","x":7,"y":0.974},{"s":"g","x":7.5,"y":0.991},{"s":"g","x":8,"y":0.987},{"s":"g","x":8.5,"y":0.998},{"s":"g","x":9,"y":0.98},{"s":"g","x":9.5,"y":0.994},
      {"s":"g","x":10,"y":0.977},{"s":"g","x":10.5,"y":0.989},{"s":"g","x":11,"y":0.996},{"s":"g","x":11.5,"y":0.982},{"s":"g","x":12,"y":0.992},{"s":"g","x":12.5,"y":0.992},{"s":"g","x":13,"y":0.978},{"s":"g","x":13.5,"y":0.997},{"s":"g","x":14,"y":0.984},{"s":"g","x":14.5,"y":0.99},
      {"s":"g","x":15,"y":0.973},{"s":"g","x":15.5,"y":0.995},{"s":"g","x":16,"y":0.986},{"s":"g","x":16.5,"y":0.981},{"s":"g","x":17,"y":0.998},{"s":"g","x":17.5,"y":0.976},{"s":"g","x":18,"y":0.989},{"s":"g","x":18.5,"y":0.994},{"s":"g","x":19,"y":0.98},{"s":"g","x":19.5,"y":0.996},
      {"s":"g","x":20,"y":0.983},{"s":"g","x":20.5,"y":0.971},{"s":"g","x":21,"y":0.991},{"s":"g","x":21.5,"y":0.987},{"s":"g","x":22,"y":0.999},{"s":"g","x":22.5,"y":0.979},{"s":"g","x":23,"y":0.993},{"s":"g","x":23.5,"y":0.985},{"s":"g","x":24,"y":0.975},{"s":"g","x":24.5,"y":0.997},
      {"s":"g","x":25,"y":0.982},{"s":"g","x":25.5,"y":0.99},{"s":"g","x":26,"y":0.977},{"s":"g","x":26.5,"y":0.995},{"s":"g","x":27,"y":0.988},{"s":"g","x":27.5,"y":0.98},{"s":"g","x":28,"y":0.998},{"s":"g","x":28.5,"y":0.972},{"s":"g","x":29,"y":0.992},{"s":"g","x":29.5,"y":0.984},
      {"s":"g","x":30,"y":0.996},{"s":"g","x":30.5,"y":0.979},{"s":"g","x":31,"y":0.989},{"s":"g","x":31.5,"y":0.994},{"s":"g","x":32,"y":0.981},{"s":"g","x":32.5,"y":0.997},{"s":"g","x":33,"y":0.975},{"s":"g","x":33.5,"y":0.99},{"s":"g","x":34,"y":0.986},{"s":"g","x":34.5,"y":0.999},
      {"s":"g","x":35,"y":0.978},{"s":"g","x":35.5,"y":0.993},{"s":"g","x":36,"y":0.983},{"s":"g","x":36.5,"y":0.995},{"s":"g","x":37,"y":0.974},{"s":"g","x":37.5,"y":0.991},{"s":"g","x":38,"y":0.987},{"s":"g","x":38.5,"y":0.998},{"s":"g","x":39,"y":0.98},{"s":"g","x":39.5,"y":0.994},
      {"s":"g","x":40,"y":0.977},{"s":"g","x":40.5,"y":0.989},{"s":"g","x":41,"y":0.996},{"s":"g","x":41.5,"y":0.982},{"s":"g","x":42,"y":0.992},{"s":"g","x":42.5,"y":0.992},{"s":"g","x":43,"y":0.978},{"s":"g","x":43.5,"y":0.997},{"s":"g","x":44,"y":0.984},{"s":"g","x":44.5,"y":0.99},
      {"s":"g","x":45,"y":0.973},{"s":"g","x":45.5,"y":0.995},{"s":"g","x":46,"y":0.986},{"s":"g","x":46.5,"y":0.981},{"s":"g","x":47,"y":0.998},{"s":"g","x":47.5,"y":0.976},{"s":"g","x":48,"y":0.989},{"s":"g","x":48.5,"y":0.994},{"s":"g","x":49,"y":0.98},{"s":"g","x":49.5,"y":0.996},
      {"s":"g","x":50,"y":0.983},{"s":"g","x":50.5,"y":0.971},{"s":"g","x":51,"y":0.991},{"s":"g","x":51.5,"y":0.987},{"s":"g","x":52,"y":0.999},{"s":"g","x":52.5,"y":0.979},{"s":"g","x":53,"y":0.993},{"s":"g","x":53.5,"y":0.985},{"s":"g","x":54,"y":0.975},{"s":"g","x":54.5,"y":0.997},
      {"s":"g","x":55,"y":0.982},{"s":"g","x":55.5,"y":0.99},{"s":"g","x":56,"y":0.977},{"s":"g","x":56.5,"y":0.995},{"s":"g","x":57,"y":0.988},{"s":"g","x":57.5,"y":0.98},{"s":"g","x":58,"y":0.998},{"s":"g","x":58.5,"y":0.972},{"s":"g","x":59,"y":0.992},{"s":"g","x":59.5,"y":0.984},
      {"s":"g","x":60,"y":0.996},{"s":"g","x":60.5,"y":0.979},{"s":"g","x":61,"y":0.989},{"s":"g","x":61.5,"y":0.994},{"s":"g","x":62,"y":0.981},{"s":"g","x":62.5,"y":0.997},{"s":"g","x":63,"y":0.975},{"s":"g","x":63.5,"y":0.99},{"s":"g","x":64,"y":0.986},{"s":"g","x":64.5,"y":0.999},
      {"s":"g","x":65,"y":0.978},{"s":"g","x":65.5,"y":0.993},{"s":"g","x":66,"y":0.983},{"s":"g","x":66.5,"y":0.995},{"s":"g","x":67,"y":0.974},{"s":"g","x":67.5,"y":0.991},{"s":"g","x":68,"y":0.987},{"s":"g","x":68.5,"y":0.998},
      {"s":"g","x":69,"y":0.975},{"s":"g","x":69.5,"y":0.955},{"s":"g","x":70,"y":0.905},{"s":"g","x":70.25,"y":0.83},{"s":"g","x":70.5,"y":0.755},{"s":"g","x":70.75,"y":0.68},{"s":"g","x":71,"y":0.58},{"s":"g","x":71.25,"y":0.49},{"s":"g","x":71.5,"y":0.42},{"s":"g","x":71.75,"y":0.33},
      {"s":"g","x":72,"y":0.245},{"s":"g","x":72.25,"y":0.185},{"s":"g","x":72.5,"y":0.13},{"s":"g","x":72.75,"y":0.095},{"s":"g","x":73,"y":0.07},{"s":"g","x":73.5,"y":0.05},{"s":"g","x":74,"y":0.04},
      {"s":"g","x":74.5,"y":0.047},{"s":"g","x":75,"y":0.023},{"s":"g","x":75.5,"y":0.037},{"s":"g","x":76,"y":0.03},{"s":"g","x":76.5,"y":0.044},{"s":"g","x":77,"y":0.018},{"s":"g","x":77.5,"y":0.04},{"s":"g","x":78,"y":0.027},{"s":"g","x":78.5,"y":0.048},{"s":"g","x":79,"y":0.032},
      {"s":"g","x":79.5,"y":0.022},{"s":"g","x":80,"y":0.043},{"s":"g","x":80.5,"y":0.036},{"s":"g","x":81,"y":0.025},{"s":"g","x":81.5,"y":0.033},{"s":"g","x":82,"y":0.02},{"s":"g","x":82.5,"y":0.045},{"s":"g","x":83,"y":0.027},{"s":"g","x":83.5,"y":0.039},{"s":"g","x":84,"y":0.018},
      {"s":"g","x":84.5,"y":0.05},{"s":"g","x":85,"y":0.031},{"s":"g","x":85.5,"y":0.024},{"s":"g","x":86,"y":0.043},{"s":"g","x":86.5,"y":0.036},{"s":"g","x":87,"y":0.021},{"s":"g","x":87.5,"y":0.047},{"s":"g","x":88,"y":0.029},{"s":"g","x":88.5,"y":0.04},{"s":"g","x":89,"y":0.023},
      {"s":"g","x":89.5,"y":0.052},{"s":"g","x":90,"y":0.026},{"s":"g","x":90.5,"y":0.037},{"s":"g","x":91,"y":0.019},{"s":"g","x":91.5,"y":0.044},{"s":"g","x":92,"y":0.032},{"s":"g","x":92.5,"y":0.025},{"s":"g","x":93,"y":0.048},{"s":"g","x":93.5,"y":0.03},{"s":"g","x":94,"y":0.041},
      {"s":"g","x":94.5,"y":0.022},{"s":"g","x":95,"y":0.046},{"s":"g","x":95.5,"y":0.034},{"s":"g","x":96,"y":0.028},{"s":"g","x":96.5,"y":0.042},{"s":"g","x":97,"y":0.017},{"s":"g","x":97.5,"y":0.038},{"s":"g","x":98,"y":0.049},{"s":"g","x":98.5,"y":0.024},{"s":"g","x":99,"y":0.035},
      {"s":"g","x":99.5,"y":0.021},{"s":"g","x":100,"y":0.045},{"s":"g","x":100.5,"y":0.031},{"s":"g","x":101,"y":0.039},{"s":"g","x":101.5,"y":0.026},{"s":"g","x":102,"y":0.051},{"s":"g","x":102.5,"y":0.033},{"s":"g","x":103,"y":0.02},{"s":"g","x":103.5,"y":0.042},{"s":"g","x":104,"y":0.029},
      {"s":"g","x":104.5,"y":0.062},{"s":"g","x":105,"y":0.023},{"s":"g","x":105.5,"y":0.037},{"s":"g","x":106,"y":0.03},{"s":"g","x":106.5,"y":0.044},{"s":"g","x":107,"y":0.018},{"s":"g","x":107.5,"y":0.04},{"s":"g","x":108,"y":0.027},{"s":"g","x":108.5,"y":0.048},{"s":"g","x":109,"y":0.032},
      {"s":"g","x":109.5,"y":0.022},{"s":"g","x":110,"y":0.043},{"s":"g","x":110.5,"y":0.036},{"s":"g","x":111,"y":0.025},{"s":"g","x":111.5,"y":0.033},{"s":"g","x":112,"y":0.02},{"s":"g","x":112.5,"y":0.045},{"s":"g","x":113,"y":0.027},{"s":"g","x":113.5,"y":0.039},{"s":"g","x":114,"y":0.018},
      {"s":"g","x":114.5,"y":0.05},{"s":"g","x":115,"y":0.031},{"s":"g","x":115.5,"y":0.024},{"s":"g","x":116,"y":0.043},{"s":"g","x":116.5,"y":0.036},{"s":"g","x":117,"y":0.021},{"s":"g","x":117.5,"y":0.06},{"s":"g","x":118,"y":0.029},{"s":"g","x":118.5,"y":0.04},{"s":"g","x":119,"y":0.023},
      {"s":"g","x":119.5,"y":0.052},{"s":"g","x":120,"y":0.026},{"s":"g","x":120.5,"y":0.037},{"s":"g","x":121,"y":0.019},{"s":"g","x":121.5,"y":0.044},{"s":"g","x":122,"y":0.032},{"s":"g","x":122.5,"y":0.025},{"s":"g","x":123,"y":0.048},{"s":"g","x":123.5,"y":0.03},{"s":"g","x":124,"y":0.041},
      {"s":"g","x":124.5,"y":0.022},{"s":"g","x":125,"y":0.046},{"s":"g","x":125.5,"y":0.034},{"s":"g","x":126,"y":0.028},{"s":"g","x":126.5,"y":0.042},{"s":"g","x":127,"y":0.017},{"s":"g","x":127.5,"y":0.038},{"s":"g","x":128,"y":0.049},{"s":"g","x":128.5,"y":0.024},{"s":"g","x":129,"y":0.035},
      {"s":"g","x":129.5,"y":0.021},{"s":"g","x":130,"y":0.045},{"s":"g","x":130.5,"y":0.031},{"s":"g","x":131,"y":0.039},{"s":"g","x":131.5,"y":0.026},{"s":"g","x":132,"y":0.051},{"s":"g","x":132.5,"y":0.033},{"s":"g","x":133,"y":0.02},{"s":"g","x":133.5,"y":0.042},{"s":"g","x":134,"y":0.029},
      {"s":"g","x":134.5,"y":0.047},{"s":"g","x":135,"y":0.023},{"s":"g","x":135.5,"y":0.037},{"s":"g","x":136,"y":0.03},{"s":"g","x":136.5,"y":0.044},{"s":"g","x":137,"y":0.018},{"s":"g","x":137.5,"y":0.04},{"s":"g","x":138,"y":0.027},{"s":"g","x":138.5,"y":0.048},{"s":"g","x":139,"y":0.032},
      {"s":"g","x":139.5,"y":0.022},{"s":"g","x":140,"y":0.043},{"s":"g","x":140.5,"y":0.036},{"s":"g","x":141,"y":0.025},{"s":"g","x":141.5,"y":0.033},{"s":"g","x":142,"y":0.02},{"s":"g","x":142.5,"y":0.045},{"s":"g","x":143,"y":0.027},{"s":"g","x":143.5,"y":0.058},{"s":"g","x":144,"y":0.018},
      {"s":"g","x":144.5,"y":0.05},{"s":"g","x":145,"y":0.031},{"s":"g","x":145.5,"y":0.024},{"s":"g","x":146,"y":0.043},{"s":"g","x":146.5,"y":0.036},{"s":"g","x":147,"y":0.021},{"s":"g","x":147.5,"y":0.047},{"s":"g","x":148,"y":0.029},{"s":"g","x":148.5,"y":0.04},{"s":"g","x":149,"y":0.023},
      {"s":"g","x":149.5,"y":0.052},{"s":"g","x":150,"y":0.026},

      {"s":"m","x":0,"y":0.012},{"s":"m","x":0.5,"y":0.021},{"s":"m","x":1,"y":0.008},{"s":"m","x":1.5,"y":0.03},{"s":"m","x":2,"y":0.017},{"s":"m","x":2.5,"y":0.035},{"s":"m","x":3,"y":0.011},{"s":"m","x":3.5,"y":0.025},{"s":"m","x":4,"y":0.018},{"s":"m","x":4.5,"y":0.032},
      {"s":"m","x":5,"y":0.006},{"s":"m","x":5.5,"y":0.028},{"s":"m","x":6,"y":0.015},{"s":"m","x":6.5,"y":0.036},{"s":"m","x":7,"y":0.02},{"s":"m","x":7.5,"y":0.01},{"s":"m","x":8,"y":0.031},{"s":"m","x":8.5,"y":0.024},{"s":"m","x":9,"y":0.013},{"s":"m","x":9.5,"y":0.021},
      {"s":"m","x":10,"y":0.008},{"s":"m","x":10.5,"y":0.033},{"s":"m","x":11,"y":0.015},{"s":"m","x":11.5,"y":0.027},{"s":"m","x":12,"y":0.006},{"s":"m","x":12.5,"y":0.038},{"s":"m","x":13,"y":0.019},{"s":"m","x":13.5,"y":0.012},{"s":"m","x":14,"y":0.031},{"s":"m","x":14.5,"y":0.024},
      {"s":"m","x":15,"y":0.009},{"s":"m","x":15.5,"y":0.035},{"s":"m","x":16,"y":0.017},{"s":"m","x":16.5,"y":0.028},{"s":"m","x":17,"y":0.011},{"s":"m","x":17.5,"y":0.04},{"s":"m","x":18,"y":0.014},{"s":"m","x":18.5,"y":0.025},{"s":"m","x":19,"y":0.007},{"s":"m","x":19.5,"y":0.032},
      {"s":"m","x":20,"y":0.02},{"s":"m","x":20.5,"y":0.013},{"s":"m","x":21,"y":0.036},{"s":"m","x":21.5,"y":0.018},{"s":"m","x":22,"y":0.029},{"s":"m","x":22.5,"y":0.01},{"s":"m","x":23,"y":0.034},{"s":"m","x":23.5,"y":0.022},{"s":"m","x":24,"y":0.016},{"s":"m","x":24.5,"y":0.03},
      {"s":"m","x":25,"y":0.005},{"s":"m","x":25.5,"y":0.026},{"s":"m","x":26,"y":0.037},{"s":"m","x":26.5,"y":0.012},{"s":"m","x":27,"y":0.023},{"s":"m","x":27.5,"y":0.009},{"s":"m","x":28,"y":0.033},{"s":"m","x":28.5,"y":0.019},{"s":"m","x":29,"y":0.027},{"s":"m","x":29.5,"y":0.014},
      {"s":"m","x":30,"y":0.039},{"s":"m","x":30.5,"y":0.021},{"s":"m","x":31,"y":0.008},{"s":"m","x":31.5,"y":0.03},{"s":"m","x":32,"y":0.017},{"s":"m","x":32.5,"y":0.035},{"s":"m","x":33,"y":0.011},{"s":"m","x":33.5,"y":0.025},{"s":"m","x":34,"y":0.018},{"s":"m","x":34.5,"y":0.032},
      {"s":"m","x":35,"y":0.006},{"s":"m","x":35.5,"y":0.028},{"s":"m","x":36,"y":0.015},
      {"s":"m","x":36.5,"y":0.03},{"s":"m","x":37,"y":0.025},{"s":"m","x":37.5,"y":0.04},{"s":"m","x":38,"y":0.035},{"s":"m","x":38.5,"y":0.05},{"s":"m","x":39,"y":0.04},{"s":"m","x":39.5,"y":0.06},{"s":"m","x":40,"y":0.05},{"s":"m","x":40.5,"y":0.07},{"s":"m","x":41,"y":0.06},
      {"s":"m","x":41.5,"y":0.08},{"s":"m","x":42,"y":0.07},
      {"s":"m","x":42.5,"y":0.084},{"s":"m","x":43,"y":0.065},{"s":"m","x":43.5,"y":0.089},{"s":"m","x":44,"y":0.077},{"s":"m","x":44.5,"y":0.071},{"s":"m","x":45,"y":0.085},{"s":"m","x":45.5,"y":0.06},{"s":"m","x":46,"y":0.081},{"s":"m","x":46.5,"y":0.092},{"s":"m","x":47,"y":0.067},
      {"s":"m","x":47.5,"y":0.078},{"s":"m","x":48,"y":0.064},{"s":"m","x":48.5,"y":0.088},{"s":"m","x":49,"y":0.074},{"s":"m","x":49.5,"y":0.082},{"s":"m","x":50,"y":0.069},{"s":"m","x":50.5,"y":0.094},{"s":"m","x":51,"y":0.076},{"s":"m","x":51.5,"y":0.063},{"s":"m","x":52,"y":0.085},
      {"s":"m","x":52.5,"y":0.072},{"s":"m","x":53,"y":0.09},{"s":"m","x":53.5,"y":0.066},{"s":"m","x":54,"y":0.08},{"s":"m","x":54.5,"y":0.073},{"s":"m","x":55,"y":0.087},{"s":"m","x":55.5,"y":0.061},{"s":"m","x":56,"y":0.083},{"s":"m","x":56.5,"y":0.07},{"s":"m","x":57,"y":0.091},
      {"s":"m","x":57.5,"y":0.065},{"s":"m","x":58,"y":0.055},{"s":"m","x":58.5,"y":0.076},{"s":"m","x":59,"y":0.069},{"s":"m","x":59.5,"y":0.058},{"s":"m","x":60,"y":0.066},{"s":"m","x":60.5,"y":0.053},{"s":"m","x":61,"y":0.078},{"s":"m","x":61.5,"y":0.06},{"s":"m","x":62,"y":0.072},
      {"s":"m","x":62.5,"y":0.031},{"s":"m","x":63,"y":0.063},{"s":"m","x":63.5,"y":0.044},{"s":"m","x":64,"y":0.037},{"s":"m","x":64.5,"y":0.056},{"s":"m","x":65,"y":0.049},{"s":"m","x":65.5,"y":0.034},{"s":"m","x":66,"y":0.078},{"s":"m","x":66.5,"y":0.042},{"s":"m","x":67,"y":0.053},
      {"s":"m","x":67.5,"y":0.036},{"s":"m","x":68,"y":0.065},{"s":"m","x":68.5,"y":0.039},{"s":"m","x":69,"y":0.05},{"s":"m","x":69.5,"y":0.032},{"s":"m","x":70,"y":0.057},{"s":"m","x":70.5,"y":0.045},{"s":"m","x":71,"y":0.038},{"s":"m","x":71.5,"y":0.061},
      {"s":"m","x":72,"y":0.08},{"s":"m","x":72.5,"y":0.13},{"s":"m","x":73,"y":0.175},{"s":"m","x":73.5,"y":0.205},{"s":"m","x":74,"y":0.24},{"s":"m","x":74.5,"y":0.3},{"s":"m","x":75,"y":0.38},{"s":"m","x":75.25,"y":0.46},{"s":"m","x":75.5,"y":0.6},{"s":"m","x":75.75,"y":0.72},
      {"s":"m","x":76,"y":0.8},{"s":"m","x":76.25,"y":0.86},{"s":"m","x":76.5,"y":0.91},{"s":"m","x":77,"y":0.955},{"s":"m","x":77.5,"y":0.98},
      {"s":"m","x":78,"y":0.981},{"s":"m","x":78.5,"y":0.997},{"s":"m","x":79,"y":0.975},{"s":"m","x":79.5,"y":0.99},{"s":"m","x":80,"y":0.986},{"s":"m","x":80.5,"y":0.999},{"s":"m","x":81,"y":0.978},{"s":"m","x":81.5,"y":0.993},{"s":"m","x":82,"y":0.983},{"s":"m","x":82.5,"y":0.995},
      {"s":"m","x":83,"y":0.974},{"s":"m","x":83.5,"y":0.991},{"s":"m","x":84,"y":0.987},{"s":"m","x":84.5,"y":0.998},{"s":"m","x":85,"y":0.98},{"s":"m","x":85.5,"y":0.994},{"s":"m","x":86,"y":0.977},{"s":"m","x":86.5,"y":0.989},{"s":"m","x":87,"y":0.996},{"s":"m","x":87.5,"y":0.982},
      {"s":"m","x":88,"y":0.992},{"s":"m","x":88.5,"y":0.992},{"s":"m","x":89,"y":0.978},{"s":"m","x":89.5,"y":0.997},{"s":"m","x":90,"y":0.984},{"s":"m","x":90.5,"y":0.99},{"s":"m","x":91,"y":0.973},{"s":"m","x":91.5,"y":0.995},{"s":"m","x":92,"y":0.986},{"s":"m","x":92.5,"y":0.981},
      {"s":"m","x":93,"y":0.998},{"s":"m","x":93.5,"y":0.976},{"s":"m","x":94,"y":0.989},{"s":"m","x":94.5,"y":0.994},{"s":"m","x":95,"y":0.98},{"s":"m","x":95.5,"y":0.996},{"s":"m","x":96,"y":0.983},{"s":"m","x":96.5,"y":0.971},{"s":"m","x":97,"y":0.991},{"s":"m","x":97.5,"y":0.987},
      {"s":"m","x":98,"y":0.999},{"s":"m","x":98.5,"y":0.979},{"s":"m","x":99,"y":0.993},{"s":"m","x":99.5,"y":0.985},{"s":"m","x":100,"y":0.975},{"s":"m","x":100.5,"y":0.997},{"s":"m","x":101,"y":0.982},{"s":"m","x":101.5,"y":0.99},{"s":"m","x":102,"y":0.977},{"s":"m","x":102.5,"y":0.995},
      {"s":"m","x":103,"y":0.988},{"s":"m","x":103.5,"y":0.98},{"s":"m","x":104,"y":0.998},{"s":"m","x":104.5,"y":0.972},{"s":"m","x":105,"y":0.992},{"s":"m","x":105.5,"y":0.984},{"s":"m","x":106,"y":0.996},{"s":"m","x":106.5,"y":0.979},{"s":"m","x":107,"y":0.989},{"s":"m","x":107.5,"y":0.994},
      {"s":"m","x":108,"y":0.981},{"s":"m","x":108.5,"y":0.997},{"s":"m","x":109,"y":0.975},{"s":"m","x":109.5,"y":0.99},{"s":"m","x":110,"y":0.986},{"s":"m","x":110.5,"y":0.999},{"s":"m","x":111,"y":0.978},{"s":"m","x":111.5,"y":0.993},{"s":"m","x":112,"y":0.983},{"s":"m","x":112.5,"y":0.995},
      {"s":"m","x":113,"y":0.974},{"s":"m","x":113.5,"y":0.991},{"s":"m","x":114,"y":0.987},
      {"s":"m","x":114.5,"y":0.978},{"s":"m","x":115,"y":0.97},{"s":"m","x":115.5,"y":0.966},{"s":"m","x":116,"y":0.955},{"s":"m","x":116.5,"y":0.948},{"s":"m","x":117,"y":0.935},{"s":"m","x":117.5,"y":0.91},{"s":"m","x":118,"y":0.85},{"s":"m","x":118.25,"y":0.79},{"s":"m","x":118.5,"y":0.71},
      {"s":"m","x":118.75,"y":0.62},{"s":"m","x":119,"y":0.5},{"s":"m","x":119.25,"y":0.4},{"s":"m","x":119.5,"y":0.3},{"s":"m","x":119.75,"y":0.23},{"s":"m","x":120,"y":0.175},{"s":"m","x":120.5,"y":0.105},{"s":"m","x":121,"y":0.06},{"s":"m","x":121.5,"y":0.045},{"s":"m","x":122,"y":0.035},
      {"s":"m","x":122.5,"y":0.012},{"s":"m","x":123,"y":0.023},{"s":"m","x":123.5,"y":0.009},{"s":"m","x":124,"y":0.033},{"s":"m","x":124.5,"y":0.019},{"s":"m","x":125,"y":0.027},{"s":"m","x":125.5,"y":0.014},{"s":"m","x":126,"y":0.039},{"s":"m","x":126.5,"y":0.021},{"s":"m","x":127,"y":0.008},
      {"s":"m","x":127.5,"y":0.03},{"s":"m","x":128,"y":0.017},{"s":"m","x":128.5,"y":0.035},{"s":"m","x":129,"y":0.011},{"s":"m","x":129.5,"y":0.025},{"s":"m","x":130,"y":0.018},{"s":"m","x":130.5,"y":0.032},{"s":"m","x":131,"y":0.006},{"s":"m","x":131.5,"y":0.028},{"s":"m","x":132,"y":0.015},
      {"s":"m","x":132.5,"y":0.036},{"s":"m","x":133,"y":0.02},{"s":"m","x":133.5,"y":0.01},{"s":"m","x":134,"y":0.031},{"s":"m","x":134.5,"y":0.024},{"s":"m","x":135,"y":0.013},{"s":"m","x":135.5,"y":0.021},{"s":"m","x":136,"y":0.008},{"s":"m","x":136.5,"y":0.033},{"s":"m","x":137,"y":0.015},
      {"s":"m","x":137.5,"y":0.027},{"s":"m","x":138,"y":0.006},{"s":"m","x":138.5,"y":0.038},{"s":"m","x":139,"y":0.019},{"s":"m","x":139.5,"y":0.012},{"s":"m","x":140,"y":0.031},{"s":"m","x":140.5,"y":0.024},{"s":"m","x":141,"y":0.009},{"s":"m","x":141.5,"y":0.035},{"s":"m","x":142,"y":0.017},
      {"s":"m","x":142.5,"y":0.028},{"s":"m","x":143,"y":0.011},{"s":"m","x":143.5,"y":0.04},{"s":"m","x":144,"y":0.014},{"s":"m","x":144.5,"y":0.025},{"s":"m","x":145,"y":0.007},{"s":"m","x":145.5,"y":0.032},{"s":"m","x":146,"y":0.02},{"s":"m","x":146.5,"y":0.013},{"s":"m","x":147,"y":0.036},
      {"s":"m","x":147.5,"y":0.018},{"s":"m","x":148,"y":0.029},{"s":"m","x":148.5,"y":0.01},{"s":"m","x":149,"y":0.034},{"s":"m","x":149.5,"y":0.022},{"s":"m","x":150,"y":0.016}
    ],
    "bottom": [
      {"s":"r","x":0,"y":1},{"s":"r","x":2.5,"y":0.973},{"s":"r","x":5,"y":0.946},{"s":"r","x":7.5,"y":0.92},{"s":"r","x":10,"y":0.892},{"s":"r","x":12.5,"y":0.866},{"s":"r","x":15,"y":0.842},{"s":"r","x":17.5,"y":0.818},{"s":"r","x":20,"y":0.795},{"s":"r","x":22.5,"y":0.772},
      {"s":"r","x":25,"y":0.751},{"s":"r","x":27.5,"y":0.73},{"s":"r","x":30,"y":0.712},{"s":"r","x":32.4,"y":0.699},{"s":"r","x":35,"y":0.699},{"s":"r","x":38,"y":0.699},{"s":"r","x":40,"y":0.703},{"s":"r","x":50,"y":0.71},{"s":"r","x":60,"y":0.717},{"s":"r","x":70,"y":0.723},
      {"s":"r","x":84,"y":0.729},{"s":"r","x":100,"y":0.739},{"s":"r","x":117,"y":0.75},{"s":"r","x":137,"y":0.76},{"s":"r","x":150,"y":0.765},

      {"s":"b","x":0,"y":1},{"s":"b","x":2.5,"y":0.973},{"s":"b","x":5,"y":0.946},{"s":"b","x":7.5,"y":0.92},{"s":"b","x":10,"y":0.892},{"s":"b","x":12.5,"y":0.866},{"s":"b","x":15,"y":0.842},{"s":"b","x":17.5,"y":0.818},{"s":"b","x":20,"y":0.795},{"s":"b","x":22.5,"y":0.772},
      {"s":"b","x":25,"y":0.751},{"s":"b","x":27.5,"y":0.73},{"s":"b","x":30,"y":0.712},{"s":"b","x":32.4,"y":0.699},{"s":"b","x":35,"y":0.678},{"s":"b","x":37.5,"y":0.657},{"s":"b","x":40,"y":0.637},{"s":"b","x":42.5,"y":0.62},{"s":"b","x":45,"y":0.604},{"s":"b","x":47.5,"y":0.59},
      {"s":"b","x":50,"y":0.576},{"s":"b","x":52.5,"y":0.563},{"s":"b","x":55,"y":0.551},{"s":"b","x":57.5,"y":0.539},{"s":"b","x":60,"y":0.527},{"s":"b","x":62.5,"y":0.515},{"s":"b","x":65,"y":0.503},{"s":"b","x":67.5,"y":0.491},{"s":"b","x":70,"y":0.479},{"s":"b","x":72,"y":0.47},
      {"s":"b","x":76,"y":0.458},{"s":"b","x":80,"y":0.443},{"s":"b","x":85,"y":0.42},{"s":"b","x":90,"y":0.403},{"s":"b","x":100,"y":0.374},{"s":"b","x":110,"y":0.345},{"s":"b","x":119,"y":0.318},{"s":"b","x":130,"y":0.302},{"s":"b","x":140,"y":0.288},{"s":"b","x":150,"y":0.273},

      {"s":"k","x":0,"y":0.999},{"s":"k","x":4.5,"y":0.997},{"s":"k","x":5,"y":0.994},{"s":"k","x":9.3,"y":0.99},{"s":"k","x":17,"y":0.985},{"s":"k","x":30,"y":0.98},{"s":"k","x":36.5,"y":0.974},{"s":"k","x":39,"y":0.969},{"s":"k","x":41.5,"y":0.958},{"s":"k","x":44,"y":0.935},
      {"s":"k","x":47,"y":0.905},{"s":"k","x":49.7,"y":0.876},{"s":"k","x":53,"y":0.842},{"s":"k","x":57.8,"y":0.795},{"s":"k","x":62,"y":0.757},{"s":"k","x":66.9,"y":0.719},{"s":"k","x":71,"y":0.69},{"s":"k","x":76,"y":0.658},{"s":"k","x":80,"y":0.633},{"s":"k","x":85,"y":0.603},
      {"s":"k","x":90,"y":0.573},{"s":"k","x":95,"y":0.543},{"s":"k","x":100,"y":0.513},{"s":"k","x":105,"y":0.484},{"s":"k","x":110.9,"y":0.453},{"s":"k","x":115,"y":0.437},{"s":"k","x":118,"y":0.427},{"s":"k","x":122,"y":0.416},{"s":"k","x":126,"y":0.41},{"s":"k","x":129,"y":0.412},
      {"s":"k","x":133.6,"y":0.424},{"s":"k","x":140,"y":0.43},{"s":"k","x":150,"y":0.438},

      {"s":"m","x":0,"y":1},{"s":"m","x":30,"y":1},{"s":"m","x":31,"y":0.997},{"s":"m","x":42.5,"y":0.996},{"s":"m","x":43,"y":0.99},{"s":"m","x":51,"y":0.99},{"s":"m","x":52,"y":0.985},{"s":"m","x":59,"y":0.985},{"s":"m","x":60,"y":0.977},{"s":"m","x":75,"y":0.977},
      {"s":"m","x":76.5,"y":0.97},{"s":"m","x":78.3,"y":0.935},{"s":"m","x":85,"y":0.871},{"s":"m","x":90,"y":0.825},{"s":"m","x":95,"y":0.78},{"s":"m","x":100,"y":0.736},{"s":"m","x":105,"y":0.7},{"s":"m","x":110,"y":0.665},{"s":"m","x":115,"y":0.632},{"s":"m","x":119,"y":0.604},
      {"s":"m","x":122,"y":0.604},{"s":"m","x":130,"y":0.61},{"s":"m","x":140,"y":0.618},{"s":"m","x":150,"y":0.627},

      {"s":"g","x":0,"y":1},{"s":"g","x":2.5,"y":0.973},{"s":"g","x":5,"y":0.946},{"s":"g","x":7.5,"y":0.92},{"s":"g","x":10,"y":0.892},{"s":"g","x":12.5,"y":0.866},{"s":"g","x":15,"y":0.842},{"s":"g","x":17.5,"y":0.818},{"s":"g","x":20,"y":0.795},{"s":"g","x":22.5,"y":0.772},
      {"s":"g","x":25,"y":0.751},{"s":"g","x":27.5,"y":0.73},{"s":"g","x":30,"y":0.712},{"s":"g","x":32.4,"y":0.699},{"s":"g","x":35,"y":0.678},{"s":"g","x":37.5,"y":0.657},{"s":"g","x":40,"y":0.637},{"s":"g","x":42.5,"y":0.62},{"s":"g","x":45,"y":0.604},{"s":"g","x":47.5,"y":0.59},
      {"s":"g","x":50,"y":0.576},{"s":"g","x":52.5,"y":0.563},{"s":"g","x":55,"y":0.551},{"s":"g","x":57.5,"y":0.539},{"s":"g","x":60,"y":0.527},{"s":"g","x":62.5,"y":0.515},{"s":"g","x":65,"y":0.503},{"s":"g","x":67.5,"y":0.491},{"s":"g","x":70,"y":0.479},{"s":"g","x":72,"y":0.47},
      {"s":"g","x":80,"y":0.48},{"s":"g","x":84,"y":0.488},{"s":"g","x":90,"y":0.496},{"s":"g","x":100,"y":0.509},{"s":"g","x":110,"y":0.521},{"s":"g","x":119,"y":0.533},{"s":"g","x":130,"y":0.541},{"s":"g","x":140,"y":0.549},{"s":"g","x":150,"y":0.556}
    ]
  },
  "vconcat": [
    {
      "width": 1102,
      "height": 233,
      "layer": [
        {
          "data": {"name": "top"},
          "mark": {"type": "line", "strokeWidth": 1},
          "encoding": {
            "x": {"field": "x", "type": "quantitative", "scale": {"domain": [0, 150], "nice": false, "zero": false},
                  "axis": {"orient": "bottom", "title": null, "values": [0, 50, 100, 150], "labelPadding": 3, "labelFlush": false, "labelOverlap": false, "labelBound": false}},
            "y": {"field": "y", "type": "quantitative", "scale": {"domain": [0, 1], "nice": false, "zero": false},
                  "axis": {"orient": "left", "title": null, "values": [0, 0.1, 0.2, 0.3, 0.4, 0.5, 0.6, 0.7, 0.8, 0.9, 1], "format": "~g", "labelPadding": 2, "labelFlush": false, "labelOverlap": false}},
            "color": {"field": "s", "type": "nominal", "legend": null,
                      "scale": {"domain": ["b", "r", "k", "g", "m"], "range": ["#0000ff", "#ff0000", "#000000", "#00ff00", "#ff00ff"]}}
          }
        },
        {
          "data": {"name": "yt"},
          "mark": {"type": "tick", "orient": "horizontal", "size": 22, "thickness": 1, "color": "#111", "clip": true},
          "encoding": {
            "y": {"field": "v", "type": "quantitative", "axis": {"orient": "left", "title": null, "values": [0, 0.1, 0.2, 0.3, 0.4, 0.5, 0.6, 0.7, 0.8, 0.9, 1], "format": "~g", "labelPadding": 2, "labelFlush": false, "labelOverlap": false}},
            "x": {"datum": 0, "type": "quantitative", "axis": {"orient": "bottom", "title": null, "values": [0, 50, 100, 150], "labelPadding": 3, "labelFlush": false, "labelOverlap": false, "labelBound": false}}
          }
        },
        {
          "data": {"name": "yt"},
          "mark": {"type": "tick", "orient": "horizontal", "size": 22, "thickness": 1, "color": "#808080", "clip": true},
          "encoding": {
            "y": {"field": "v", "type": "quantitative", "axis": {"orient": "left", "title": null, "values": [0, 0.1, 0.2, 0.3, 0.4, 0.5, 0.6, 0.7, 0.8, 0.9, 1], "format": "~g", "labelPadding": 2, "labelFlush": false, "labelOverlap": false}},
            "x": {"datum": 150, "type": "quantitative", "axis": {"orient": "bottom", "title": null, "values": [0, 50, 100, 150], "labelPadding": 3, "labelFlush": false, "labelOverlap": false, "labelBound": false}}
          }
        },
        {
          "data": {"name": "xt"},
          "mark": {"type": "tick", "orient": "vertical", "size": 22, "thickness": 1, "color": "#444", "clip": true},
          "encoding": {
            "x": {"field": "v", "type": "quantitative", "axis": {"orient": "bottom", "title": null, "values": [0, 50, 100, 150], "labelPadding": 3, "labelFlush": false, "labelOverlap": false, "labelBound": false}},
            "y": {"datum": 0, "type": "quantitative", "axis": {"orient": "left", "title": null, "values": [0, 0.1, 0.2, 0.3, 0.4, 0.5, 0.6, 0.7, 0.8, 0.9, 1], "format": "~g", "labelPadding": 2, "labelFlush": false, "labelOverlap": false}}
          }
        },
        {
          "data": {"name": "xt"},
          "mark": {"type": "tick", "orient": "vertical", "size": 22, "thickness": 1, "color": "#222", "clip": true},
          "encoding": {
            "x": {"field": "v", "type": "quantitative", "axis": {"orient": "bottom", "title": null, "values": [0, 50, 100, 150], "labelPadding": 3, "labelFlush": false, "labelOverlap": false, "labelBound": false}},
            "y": {"datum": 1, "type": "quantitative", "axis": {"orient": "left", "title": null, "values": [0, 0.1, 0.2, 0.3, 0.4, 0.5, 0.6, 0.7, 0.8, 0.9, 1], "format": "~g", "labelPadding": 2, "labelFlush": false, "labelOverlap": false}}
          }
        }
      ]
    },
    {
      "width": 1131,
      "height": 2,
      "view": {"stroke": null, "fill": "#ffffff"},
      "data": {"values": [{"y": 0.5}]},
      "mark": {"type": "rule", "color": "#ffffff", "strokeWidth": 2},
      "encoding": {
        "y": {"field": "y", "type": "quantitative", "axis": null, "scale": {"domain": [0, 1]}}
      }
    },
    {
      "width": 1102,
      "height": 233,
      "layer": [
        {
          "data": {"name": "bottom"},
          "mark": {"type": "line", "strokeWidth": 1},
          "encoding": {
            "x": {"field": "x", "type": "quantitative", "scale": {"domain": [0, 150], "nice": false, "zero": false},
                  "axis": {"orient": "bottom", "title": null, "values": [0, 50, 100, 150], "labelPadding": 3, "labelFlush": false, "labelOverlap": false, "labelBound": false}},
            "y": {"field": "y", "type": "quantitative", "scale": {"domain": [0, 1], "nice": false, "zero": false},
                  "axis": {"orient": "left", "title": null, "values": [0, 0.1, 0.2, 0.3, 0.4, 0.5, 0.6, 0.7, 0.8, 0.9, 1], "format": "~g", "labelPadding": 2, "labelFlush": false, "labelOverlap": false}},
            "color": {"field": "s", "type": "nominal", "legend": null,
                      "scale": {"domain": ["r", "b", "k", "m", "g"], "range": ["#ff0000", "#0000ff", "#000000", "#ff00ff", "#00ff00"]}}
          }
        },
        {
          "data": {"name": "yt"},
          "mark": {"type": "tick", "orient": "horizontal", "size": 22, "thickness": 1, "color": "#444", "clip": true},
          "encoding": {
            "y": {"field": "v", "type": "quantitative", "axis": {"orient": "left", "title": null, "values": [0, 0.1, 0.2, 0.3, 0.4, 0.5, 0.6, 0.7, 0.8, 0.9, 1], "format": "~g", "labelPadding": 2, "labelFlush": false, "labelOverlap": false}},
            "x": {"datum": 0, "type": "quantitative", "axis": {"orient": "bottom", "title": null, "values": [0, 50, 100, 150], "labelPadding": 3, "labelFlush": false, "labelOverlap": false, "labelBound": false}}
          }
        },
        {
          "data": {"name": "yt"},
          "mark": {"type": "tick", "orient": "horizontal", "size": 22, "thickness": 1, "color": "#808080", "clip": true},
          "encoding": {
            "y": {"field": "v", "type": "quantitative", "axis": {"orient": "left", "title": null, "values": [0, 0.1, 0.2, 0.3, 0.4, 0.5, 0.6, 0.7, 0.8, 0.9, 1], "format": "~g", "labelPadding": 2, "labelFlush": false, "labelOverlap": false}},
            "x": {"datum": 150, "type": "quantitative", "axis": {"orient": "bottom", "title": null, "values": [0, 50, 100, 150], "labelPadding": 3, "labelFlush": false, "labelOverlap": false, "labelBound": false}}
          }
        },
        {
          "data": {"name": "xt"},
          "mark": {"type": "tick", "orient": "vertical", "size": 22, "thickness": 1, "color": "#333", "clip": true},
          "encoding": {
            "x": {"field": "v", "type": "quantitative", "axis": {"orient": "bottom", "title": null, "values": [0, 50, 100, 150], "labelPadding": 3, "labelFlush": false, "labelOverlap": false, "labelBound": false}},
            "y": {"datum": 0, "type": "quantitative", "axis": {"orient": "left", "title": null, "values": [0, 0.1, 0.2, 0.3, 0.4, 0.5, 0.6, 0.7, 0.8, 0.9, 1], "format": "~g", "labelPadding": 2, "labelFlush": false, "labelOverlap": false}}
          }
        },
        {
          "data": {"name": "xt"},
          "mark": {"type": "tick", "orient": "vertical", "size": 22, "thickness": 1, "color": "#000", "clip": true},
          "encoding": {
            "x": {"field": "v", "type": "quantitative", "axis": {"orient": "bottom", "title": null, "values": [0, 50, 100, 150], "labelPadding": 3, "labelFlush": false, "labelOverlap": false, "labelBound": false}},
            "y": {"datum": 1, "type": "quantitative", "axis": {"orient": "left", "title": null, "values": [0, 0.1, 0.2, 0.3, 0.4, 0.5, 0.6, 0.7, 0.8, 0.9, 1], "format": "~g", "labelPadding": 2, "labelFlush": false, "labelOverlap": false}}
          }
        }
      ]
    }
  ]
}
